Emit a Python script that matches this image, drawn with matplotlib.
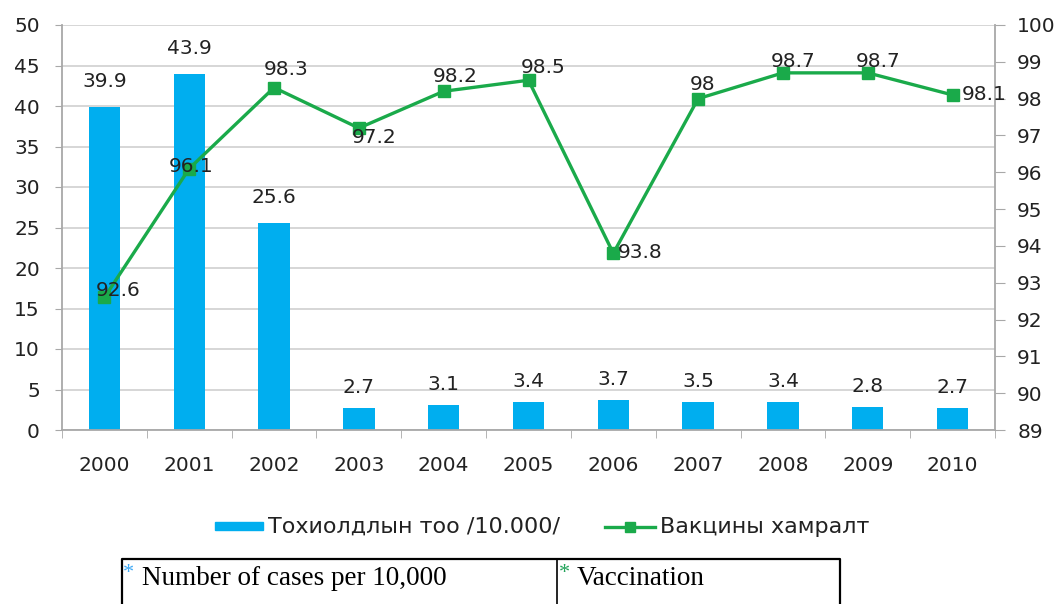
import matplotlib.pyplot as plt
from matplotlib.patches import Rectangle
from matplotlib.lines import Line2D
import numpy as np

plt.rcParams['font.family'] = ['DejaVu Sans']

years = ['2000', '2001', '2002', '2003', '2004', '2005', '2006', '2007', '2008', '2009', '2010']
cases = [39.9, 43.9, 25.6, 2.7, 3.1, 3.4, 3.7, 3.5, 3.4, 2.8, 2.7]
vaccination = [92.6, 96.1, 98.3, 97.2, 98.2, 98.5, 93.8, 98.0, 98.7, 98.7, 98.1]
vacc_labels = ['92.6', '96.1', '98.3', '97.2', '98.2', '98.5', '93.8', '98', '98.7', '98.7', '98.1']
# label offsets in pixels (dx, dy) relative to each point
vacc_offsets = [(14, 7), (2, 2), (12, 18), (15, -9), (12, 15), (15, 13),
                (27, 1), (4, 14), (10, 11), (10, 11), (32, 0)]

BLUE = '#00AEEF'
GREEN = '#1AAA4A'
GRID = '#D0D0D0'
AX = '#A8A8A8'
TXT = '#222222'

fig = plt.figure(figsize=(10.62, 6.04), dpi=100)
ax = fig.add_axes([62 / 1062, 1 - 430 / 604, (995 - 62) / 1062, (430 - 25) / 604])
x = np.arange(len(years))

ax.bar(x, cases, width=0.37, color=BLUE, zorder=2)
for xi, v in zip(x, cases):
    dy = 16 if v > 20 else 11
    ax.annotate(f'{v}', (xi, v), xytext=(0, dy), textcoords='offset pixels',
                ha='center', va='bottom', fontsize=14.5, color=TXT)

ax.set_xlim(-0.5, len(years) - 0.5)
ax.set_ylim(0, 50)
ax.set_yticks(range(0, 51, 5))
ax.yaxis.grid(True, color=GRID, linewidth=1.2, zorder=0)
ax.set_axisbelow(True)
ax.set_xticks(x)
ax.set_xticklabels(years, fontsize=14.5, color=TXT)
ax.set_xticks(np.arange(-0.5, len(years), 1), minor=True)
ax.tick_params(axis='x', which='major', length=0, pad=19)
ax.tick_params(axis='x', which='minor', length=6, color=AX)
ax.tick_params(axis='y', length=5, color=AX, labelsize=14.5, labelcolor=TXT, pad=11)
for s in ['top', 'right']:
    ax.spines[s].set_visible(False)
ax.spines['left'].set_color(AX)
ax.spines['bottom'].set_color(AX)
ax.spines['left'].set_linewidth(1.3)
ax.spines['bottom'].set_linewidth(1.3)

ax2 = ax.twinx()
ax2.plot(x, vaccination, color=GREEN, linewidth=2.4, marker='s', markersize=9, zorder=3)
for xi, v, lab, (dx, dy) in zip(x, vaccination, vacc_labels, vacc_offsets):
    ax2.annotate(lab, (xi, v), xytext=(dx, dy), textcoords='offset pixels',
                 ha='center', va='center', fontsize=14.5, color=TXT)
ax2.set_ylim(89, 100)
ax2.set_yticks(range(89, 101))
ax2.tick_params(axis='y', length=7, color=AX, labelsize=14.5, labelcolor=TXT, pad=9)
for s in ['top', 'left', 'bottom']:
    ax2.spines[s].set_visible(False)
ax2.spines['right'].set_color(AX)
ax2.spines['right'].set_linewidth(1.3)

# legend
ly = 1 - 527 / 604
fig.patches.append(Rectangle((215 / 1062, 1 - 530 / 604), 48 / 1062, 8 / 604,
                             transform=fig.transFigure, color=BLUE))
fig.text(268 / 1062, ly, 'Тохиолдлын тоо /10.000/', fontsize=16,
         va='center', ha='left', color=TXT)
fig.lines.append(Line2D([605 / 1062, 655 / 1062], [ly, ly],
                        transform=fig.transFigure, color=GREEN, linewidth=2.4))
fig.lines.append(Line2D([630 / 1062], [ly], transform=fig.transFigure,
                        color=GREEN, marker='s', markersize=7, linestyle='none'))
fig.text(660 / 1062, ly, 'Вакцины хамралт', fontsize=16,
         va='center', ha='left', color=TXT)

# table below
fig.lines.append(Line2D([122 / 1062, 122 / 1062, 840 / 1062, 840 / 1062],
                        [0, 1 - 559 / 604, 1 - 559 / 604, 0],
                        transform=fig.transFigure, color='black', linewidth=1.6))
fig.lines.append(Line2D([557 / 1062, 557 / 1062], [0, 1 - 559 / 604],
                        transform=fig.transFigure, color='black', linewidth=1.2))
base = 1 - 585 / 604
star_y = 1 - 573 / 604
fig.text(123 / 1062, star_y, '*', fontsize=16, color='#3FA9F5',
         family='Liberation Serif', va='center')
fig.text(142 / 1062, base, 'Number of cases per 10,000', fontsize=19.5,
         family='Liberation Serif', va='baseline')
fig.text(559 / 1062, star_y, '*', fontsize=16, color='#22A35A',
         family='Liberation Serif', va='center')
fig.text(577 / 1062, base, 'Vaccination', fontsize=19.5,
         family='Liberation Serif', va='baseline')

fig.savefig('out.png', dpi=100)
